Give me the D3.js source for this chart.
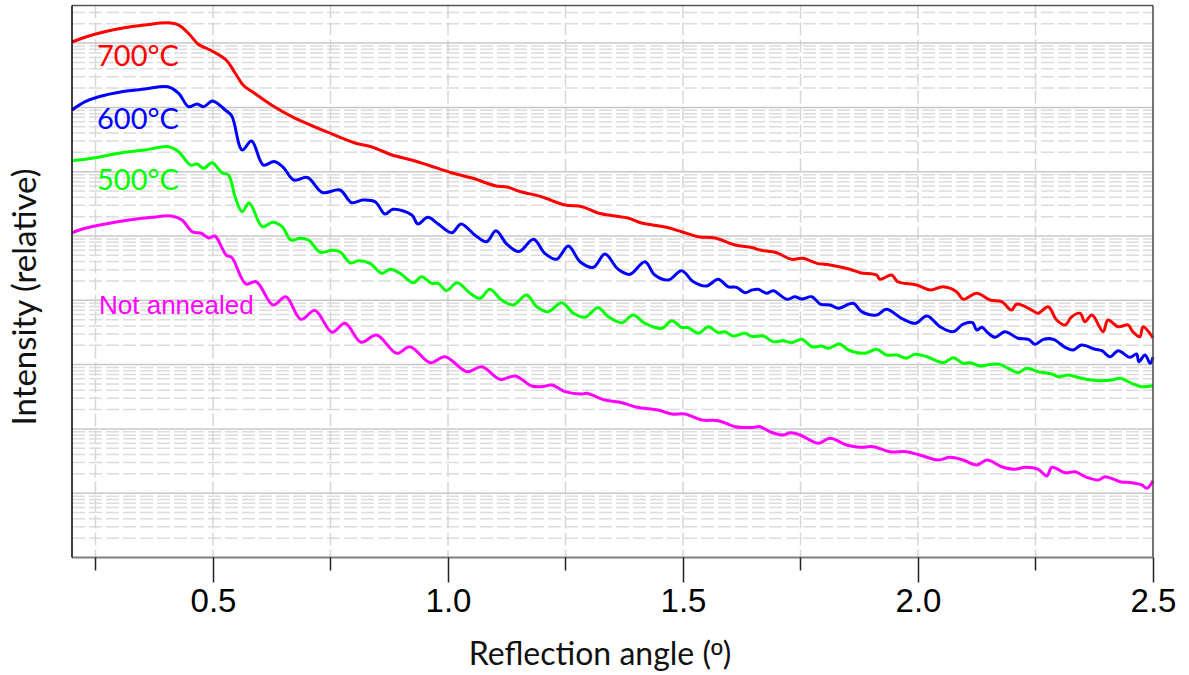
<!DOCTYPE html>
<html>
<head>
<meta charset="utf-8">
<script src="https://cdn.jsdelivr.net/npm/d3@7"></script>
<style>
  body { margin: 0; background: #fff; }
  svg { display: block; }
</style>
</head>
<body>
<svg id="chart"></svg>
<script>
// [angle (deg), log10 of relative intensity]
const series700 = [
  [0.200,8.017],[0.243,8.126],[0.306,8.230],[0.355,8.281],[0.402,8.317],[0.427,8.281],
  [0.451,8.126],[0.468,7.986],[0.498,7.877],[0.528,7.737],[0.547,7.535],[0.565,7.341],
  [0.583,7.247],[0.626,7.030],[0.668,6.858],[0.745,6.610],[0.802,6.446],[0.838,6.384],
  [0.881,6.260],[0.923,6.182],[0.957,6.104],[1.009,5.980],[1.051,5.902],[1.100,5.782],
  [1.126,5.762],[1.153,5.692],[1.199,5.611],[1.249,5.482],[1.285,5.456],[1.319,5.358],
  [1.355,5.311],[1.383,5.280],[1.412,5.202],[1.462,5.140],[1.497,5.067],[1.532,4.989],
  [1.568,4.969],[1.611,4.860],[1.647,4.821],[1.664,4.782],[1.699,4.740],[1.731,4.638],
  [1.755,4.653],[1.785,4.575],[1.813,4.549],[1.855,4.482],[1.877,4.429],[1.912,4.393],
  [1.919,4.327],[1.944,4.393],[1.957,4.289],[1.997,4.238],[2.026,4.160],[2.053,4.211],
  [2.082,4.134],[2.096,4.016],[2.125,4.109],[2.153,4.005],[2.178,3.978],[2.199,3.849],
  [2.210,3.942],[2.242,3.849],[2.255,3.798],[2.277,3.900],[2.295,3.694],[2.313,3.616],
  [2.327,3.745],[2.345,3.798],[2.355,3.667],[2.370,3.771],[2.394,3.512],[2.404,3.694],
  [2.426,3.589],[2.447,3.616],[2.457,3.512],[2.472,3.434],[2.479,3.589],[2.500,3.414]
];
const series600 = [
  [0.200,6.960],[0.228,7.089],[0.257,7.166],[0.306,7.244],[0.355,7.286],[0.404,7.322],
  [0.427,7.219],[0.448,7.011],[0.466,7.053],[0.480,7.011],[0.499,7.100],[0.526,6.960],
  [0.540,6.866],[0.562,6.338],[0.582,6.477],[0.607,6.104],[0.630,6.159],[0.649,6.073],
  [0.672,5.871],[0.701,5.910],[0.733,5.676],[0.770,5.715],[0.795,5.518],[0.819,5.560],
  [0.845,5.533],[0.866,5.342],[0.883,5.415],[0.923,5.327],[0.936,5.187],[0.957,5.291],
  [0.979,5.187],[1.008,5.051],[1.028,5.187],[1.057,5.016],[1.082,4.911],[1.102,5.082],
  [1.125,4.875],[1.151,4.759],[1.182,4.949],[1.206,4.731],[1.231,4.638],[1.256,4.844],
  [1.281,4.600],[1.309,4.513],[1.334,4.720],[1.362,4.482],[1.387,4.404],[1.419,4.600],
  [1.440,4.393],[1.469,4.316],[1.497,4.460],[1.522,4.289],[1.550,4.222],[1.575,4.327],
  [1.596,4.211],[1.614,4.202],[1.632,4.118],[1.647,4.160],[1.660,4.171],[1.678,4.109],
  [1.692,4.149],[1.721,4.016],[1.738,4.056],[1.753,4.020],[1.774,4.056],[1.792,3.942],
  [1.813,3.927],[1.830,3.876],[1.862,3.953],[1.880,3.823],[1.912,3.771],[1.933,3.860],
  [1.965,3.720],[1.994,3.642],[2.019,3.756],[2.047,3.589],[2.075,3.512],[2.096,3.631],
  [2.116,3.652],[2.125,3.538],[2.136,3.580],[2.149,3.491],[2.164,3.425],[2.185,3.512],
  [2.213,3.409],[2.235,3.393],[2.249,3.316],[2.267,3.393],[2.288,3.393],[2.313,3.269],
  [2.330,3.227],[2.348,3.305],[2.377,3.238],[2.391,3.216],[2.409,3.123],[2.426,3.216],
  [2.451,3.113],[2.465,3.165],[2.470,3.045],[2.483,3.149],[2.494,3.020],[2.500,3.118]
];
const series500 = [
  [0.200,6.171],[0.243,6.208],[0.306,6.295],[0.355,6.338],[0.406,6.389],[0.427,6.311],
  [0.452,6.104],[0.466,6.120],[0.480,6.053],[0.498,6.140],[0.519,5.984],[0.533,5.949],
  [0.547,5.611],[0.562,5.378],[0.577,5.513],[0.605,5.145],[0.627,5.215],[0.647,5.145],
  [0.666,4.938],[0.685,4.964],[0.703,4.938],[0.728,4.748],[0.753,4.778],[0.770,4.756],
  [0.793,4.580],[0.809,4.616],[0.834,4.575],[0.859,4.420],[0.877,4.482],[0.898,4.420],
  [0.926,4.274],[0.944,4.367],[0.965,4.264],[0.979,4.264],[0.997,4.149],[1.019,4.274],
  [1.047,4.109],[1.068,4.031],[1.089,4.171],[1.114,4.005],[1.139,3.927],[1.167,4.082],
  [1.189,3.900],[1.213,3.823],[1.242,3.963],[1.267,3.798],[1.292,3.736],[1.319,3.885],
  [1.341,3.745],[1.370,3.652],[1.394,3.771],[1.419,3.642],[1.455,3.565],[1.476,3.683],
  [1.497,3.580],[1.511,3.574],[1.533,3.487],[1.554,3.589],[1.575,3.496],[1.589,3.512],
  [1.607,3.445],[1.632,3.487],[1.647,3.437],[1.671,3.445],[1.692,3.356],[1.713,3.372],
  [1.731,3.341],[1.753,3.393],[1.774,3.278],[1.795,3.289],[1.809,3.253],[1.833,3.320],
  [1.852,3.227],[1.887,3.176],[1.912,3.238],[1.933,3.149],[1.955,3.149],[1.975,3.098],
  [1.994,3.160],[2.019,3.123],[2.054,3.030],[2.075,3.107],[2.096,3.020],[2.111,3.030],
  [2.132,2.978],[2.147,2.994],[2.171,3.009],[2.192,2.942],[2.213,2.874],[2.231,2.942],
  [2.256,2.890],[2.285,2.854],[2.299,2.812],[2.320,2.838],[2.348,2.787],[2.384,2.750],
  [2.412,2.760],[2.430,2.787],[2.455,2.709],[2.476,2.656],[2.500,2.672]
];
const seriesNA = [
  [0.200,5.051],[0.228,5.120],[0.271,5.187],[0.321,5.249],[0.370,5.291],[0.411,5.311],
  [0.434,5.249],[0.456,5.067],[0.476,5.039],[0.491,4.969],[0.504,5.000],[0.528,4.704],
  [0.540,4.666],[0.570,4.254],[0.592,4.289],[0.628,3.927],[0.655,4.056],[0.687,3.704],
  [0.717,3.843],[0.753,3.504],[0.781,3.642],[0.815,3.348],[0.848,3.460],[0.891,3.176],
  [0.919,3.278],[0.962,3.030],[0.994,3.123],[1.040,2.890],[1.072,2.967],[1.111,2.771],
  [1.143,2.823],[1.178,2.667],[1.199,2.656],[1.221,2.683],[1.249,2.579],[1.285,2.543],
  [1.295,2.554],[1.334,2.449],[1.370,2.407],[1.402,2.336],[1.447,2.294],[1.476,2.232],
  [1.504,2.232],[1.540,2.138],[1.575,2.128],[1.611,2.034],[1.647,2.022],[1.664,2.034],
  [1.685,1.956],[1.713,1.905],[1.728,1.941],[1.749,1.905],[1.770,1.827],[1.788,1.776],
  [1.813,1.854],[1.848,1.750],[1.877,1.714],[1.905,1.723],[1.940,1.645],[1.976,1.645],
  [2.004,1.594],[2.043,1.516],[2.068,1.558],[2.096,1.516],[2.125,1.439],[2.147,1.516],
  [2.178,1.412],[2.206,1.372],[2.228,1.403],[2.256,1.372],[2.274,1.267],[2.285,1.403],
  [2.313,1.319],[2.334,1.334],[2.359,1.247],[2.384,1.205],[2.398,1.257],[2.430,1.179],
  [2.455,1.163],[2.476,1.128],[2.487,1.076],[2.500,1.194]
];

const seriesNames = ["700°C", "600°C", "500°C", "Not annealed"];
const seriesColors = ["#ff0000", "#0000ff", "#00ff00", "#ff00ff"];
const allSeries = [series700, series600, series500, seriesNA];

const xTicksMajor = [0.5, 1.0, 1.5, 2.0, 2.5];
const xTicksMinor = [0.25, 0.75, 1.25, 1.75, 2.25];

const width = 1189;
const height = 675;
const plotLeft = 72, plotRight = 1153, plotTop = 5.5, plotBottom = 557.5;

const svg = d3.select("#chart")
  .attr("width", width)
  .attr("height", height);

svg.append("rect").attr("width", width).attr("height", height).attr("fill", "#fff");

const x = d3.scaleLinear().domain([0.2, 2.5]).range([plotLeft, plotRight]);
const y = d3.scaleLog().domain([1, Math.pow(10, 8.585)]).range([plotBottom, plotTop]);

// сетка
const grid = svg.append("g");
const minorY = [];
const majorY = [];
for (let n = 0; n <= 8; n++) {
  if (n > 0) majorY.push(Math.pow(10, n));
  for (let k = 2; k <= 9; k++) {
    const v = k * Math.pow(10, n);
    if (v < y.domain()[1]) minorY.push(v);
  }
}
grid.selectAll(".gy-minor").data(minorY).enter().append("line")
  .attr("x1", plotLeft).attr("x2", plotRight)
  .attr("y1", d => y(d)).attr("y2", d => y(d))
  .attr("stroke", "#dcdcdc").attr("stroke-width", 1.5)
  .attr("stroke-dasharray", "13,4");
grid.selectAll(".gx").data(xTicksMinor.concat(xTicksMajor.slice(0, -1))).enter().append("line")
  .attr("x1", d => x(d)).attr("x2", d => x(d))
  .attr("y1", plotTop).attr("y2", plotBottom)
  .attr("stroke", "#d6d6d6").attr("stroke-width", 1.5)
  .attr("stroke-dasharray", "13,4");
grid.selectAll(".gy-major").data(majorY).enter().append("line")
  .attr("x1", plotLeft).attr("x2", plotRight)
  .attr("y1", d => y(d)).attr("y2", d => y(d))
  .attr("stroke", "#c8c8c8").attr("stroke-width", 1.5);

// кривые
const line = d3.line()
  .x(d => x(d[0]))
  .y(d => y(Math.pow(10, d[1])))
  .curve(d3.curveCatmullRom.alpha(0.5));

allSeries.forEach((s, i) => {
  svg.append("path")
    .datum(s)
    .attr("d", line)
    .attr("fill", "none")
    .attr("stroke", seriesColors[i])
    .attr("stroke-width", 3)
    .attr("stroke-linejoin", "round");
});

// рамка
svg.append("line").attr("x1", plotLeft).attr("x2", plotRight).attr("y1", plotTop).attr("y2", plotTop)
  .attr("stroke", "#555").attr("stroke-width", 1.5);
svg.append("line").attr("x1", plotRight).attr("x2", plotRight).attr("y1", plotTop).attr("y2", plotBottom)
  .attr("stroke", "#444").attr("stroke-width", 1.5);
svg.append("line").attr("x1", plotLeft).attr("x2", plotRight).attr("y1", plotBottom).attr("y2", plotBottom)
  .attr("stroke", "#808080").attr("stroke-width", 2);
svg.append("line").attr("x1", plotLeft).attr("x2", plotLeft).attr("y1", plotTop).attr("y2", plotBottom)
  .attr("stroke", "#000").attr("stroke-width", 1.5);

// ось X
const axisX = d3.axisBottom(x)
  .tickValues(xTicksMajor)
  .tickSize(25)
  .tickPadding(6)
  .tickFormat(d3.format(".1f"));
const gx = svg.append("g")
  .attr("transform", `translate(0, ${plotBottom})`)
  .call(axisX);
gx.select(".domain").remove();
gx.selectAll(".tick line").attr("stroke", "#222").attr("stroke-width", 1.5);
gx.selectAll(".tick text")
  .attr("font-family", "Liberation Sans, Arial, sans-serif")
  .attr("font-size", 33)
  .attr("fill", "#000");

svg.append("g").selectAll("line").data(xTicksMinor).enter().append("line")
  .attr("x1", d => x(d)).attr("x2", d => x(d))
  .attr("y1", plotBottom).attr("y2", plotBottom + 13)
  .attr("stroke", "#222").attr("stroke-width", 1.5);

// подписи осей
const xTitle = svg.append("text")
  .attr("x", 600).attr("y", 665)
  .attr("text-anchor", "middle")
  .attr("font-family", "Lato, 'Open Sans', sans-serif")
  .attr("font-size", 32)
  .attr("fill", "#111");
xTitle.append("tspan").text("Reflection angle (");
xTitle.append("tspan").attr("font-family", "Liberation Sans, Arial, sans-serif").text("º");
xTitle.append("tspan").text(")");

svg.append("text")
  .attr("transform", "translate(36, 297) rotate(-90)")
  .attr("text-anchor", "middle")
  .attr("font-family", "Lato, 'Open Sans', sans-serif")
  .attr("font-size", 33)
  .attr("fill", "#111")
  .text("Intensity (relative)");

// подписи кривых
const labelPos = [[97, 66], [97, 129], [97, 190], [99, 314]];
seriesNames.forEach((name, i) => {
  const isArial = i === 3;
  svg.append("text")
    .attr("x", labelPos[i][0]).attr("y", labelPos[i][1])
    .attr("font-family", isArial ? "Liberation Sans, Arial, sans-serif" : "Lato, 'Open Sans', sans-serif")
    .attr("font-size", isArial ? 26 : 29)
    .attr("fill", seriesColors[i])
    .text(name);
});
</script>
</body>
</html>
